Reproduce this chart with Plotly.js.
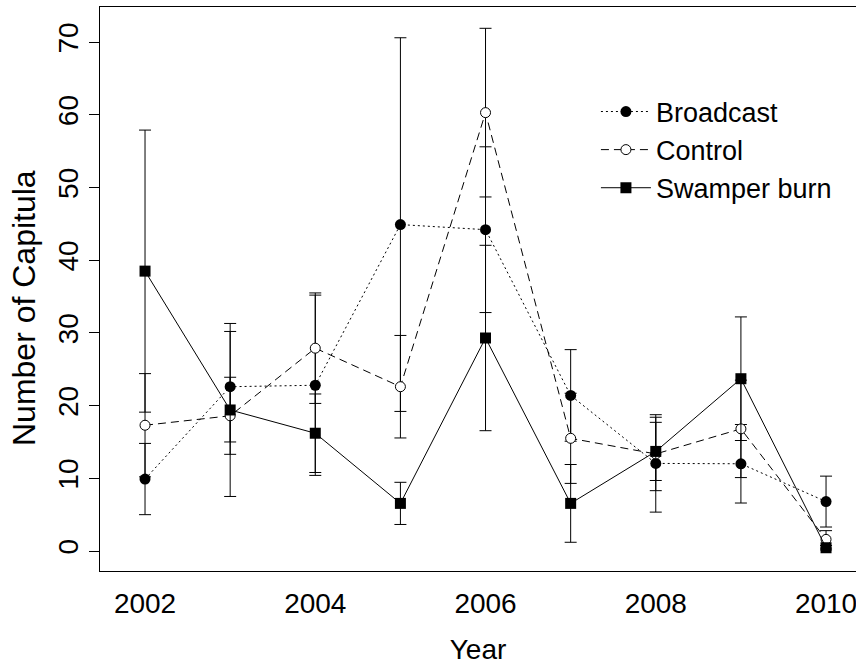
<!DOCTYPE html>
<html>
<head>
<meta charset="utf-8">
<script src="https://cdn.plot.ly/plotly-3.0.1.min.js"></script>
<style>html,body{margin:0;padding:0;background:#fff;}#chart{width:856px;height:665px;}</style>
</head>
<body>
<div id="chart"></div>
<script>
const years = [2002, 2003, 2004, 2005, 2006, 2007, 2008, 2009, 2010];
const broadcast = [9.9, 22.6, 22.8, 44.9, 44.2, 21.4, 12.05, 12.0, 6.8];
const broadcastErr = [4.9, 7.6, 12.4, 25.7, 11.4, 6.3, 6.7, 5.4, 3.5];
const control = [17.3, 18.6, 27.9, 22.6, 60.3, 15.5, 13.35, 16.8, 1.6];
const controlErr = [7.1, 5.3, 7.6, 7.05, 11.6, 6.2, 5.05, 6.7, 1.2];
const swamper = [38.5, 19.4, 16.2, 6.55, 29.3, 6.55, 13.7, 23.7, 0.45];
const swamperErr = [19.4, 11.9, 5.4, 2.9, 12.75, 5.35, 4.0, 8.5, 0.3];
const seriesNames = ["Broadcast", "Control", "Swamper burn"];
const xTicks = [2002, 2004, 2006, 2008, 2010];
const yTicks = [0, 10, 20, 30, 40, 50, 60, 70];

const FONT = "Liberation Sans, Arial, Helvetica, sans-serif";
function errBar(arr) {
  return {type: "data", array: arr, visible: true, color: "#000", thickness: 1, width: 6};
}
const traces = [
  {x: years, y: broadcast, name: seriesNames[0], type: "scatter", mode: "lines+markers",
   line: {color: "#000", width: 1, dash: "2px,3px"},
   marker: {symbol: "circle", size: 11, color: "#000"},
   error_y: errBar(broadcastErr)},
  {x: years, y: control, name: seriesNames[1], type: "scatter", mode: "lines+markers",
   line: {color: "#000", width: 1, dash: "8px,5px"},
   marker: {symbol: "circle", size: 10, color: "#fff", line: {color: "#000", width: 1}},
   error_y: errBar(controlErr)},
  {x: years, y: swamper, name: seriesNames[2], type: "scatter", mode: "lines+markers",
   line: {color: "#000", width: 1, dash: "solid"},
   marker: {symbol: "square", size: 11, color: "#000"},
   error_y: errBar(swamperErr)}
];
const layout = {
  width: 856, height: 665,
  margin: {l: 100, r: 0, t: 7, b: 94, pad: 0},
  paper_bgcolor: "#fff", plot_bgcolor: "#fff",
  font: {family: FONT, size: 28, color: "#000"},
  showlegend: true,
  legend: {x: 0.656, y: 0.7465, xanchor: "left", yanchor: "middle",
           bgcolor: "rgba(0,0,0,0)", borderwidth: 0, itemwidth: 50,
           font: {family: FONT, size: 27, color: "#000"}},
  xaxis: {range: [2001.471, 2010.352], tickvals: xTicks, ticktext: xTicks.map(String),
          ticks: "", showline: true, mirror: true, linecolor: "#000", linewidth: 1,
          showgrid: false, zeroline: false, automargin: false,
          ticklabeloverflow: "allow", ticklabelstandoff: 7,
          tickfont: {family: FONT, size: 28, color: "#000"},
          title: {text: "Year", font: {family: FONT, size: 28, color: "#000"}, standoff: 26}},
  yaxis: {range: [-2.75, 74.83], tickvals: yTicks, ticktext: yTicks.map(String),
          ticks: "outside", ticklen: 10, tickwidth: 1, tickcolor: "#000", tickangle: -90,
          showline: true, mirror: false, linecolor: "#000", linewidth: 1,
          showgrid: false, zeroline: false, automargin: false,
          tickfont: {family: FONT, size: 28, color: "#000"}},
  annotations: [
    {text: "Number of Capitula", xref: "paper", yref: "paper", x: -0.1005, y: 0.4663,
     xanchor: "center", yanchor: "middle", textangle: -90, showarrow: false,
     font: {family: FONT, size: 32, color: "#000"}}
  ]
};
Plotly.newPlot("chart", traces, layout, {displayModeBar: false, staticPlot: true});
</script>
</body>
</html>
